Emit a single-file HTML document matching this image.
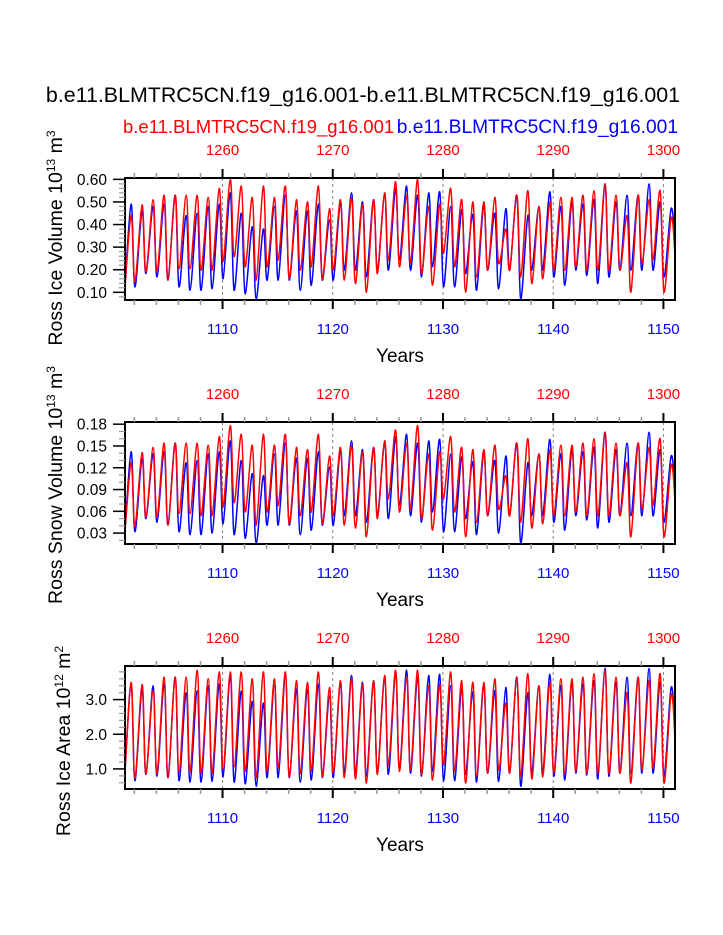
<!DOCTYPE html>
<html><head><meta charset="utf-8"><style>
html,body{margin:0;padding:0;background:#fff;}
svg{display:block;font-family:"Liberation Sans",Arial,sans-serif;}
</style></head><body>
<svg id="chart" width="723" height="935" viewBox="0 0 723 935">
<text x="363" y="102" text-anchor="middle" font-size="21.4" fill="#000">b.e11.BLMTRC5CN.f19_g16.001-b.e11.BLMTRC5CN.f19_g16.001</text>
<text x="123" y="133" font-size="18.5" fill="#ff0000">b.e11.BLMTRC5CN.f19_g16.001</text>
<text x="678" y="133" text-anchor="end" font-size="19.2" fill="#0000ff">b.e11.BLMTRC5CN.f19_g16.001</text>
</svg>
<script>
// Panel 1: Ross Ice Volume (10^13 m^3)
const years = [1101,1102,1103,1104,1105,1106,1107,1108,1109,1110,1111,1112,1113,1114,1115,1116,1117,1118,1119,1120,1121,1122,1123,1124,1125,1126,1127,1128,1129,1130,1131,1132,1133,1134,1135,1136,1137,1138,1139,1140,1141,1142,1143,1144,1145,1146,1147,1148,1149,1150];
const bottomTickLabels = ["1110","1120","1130","1140","1150"];
const topTickLabels = ["1260","1270","1280","1290","1300"];
const iceVolBluePeaks = [.49,.46,.48,.49,.53,.44,.45,.48,.49,.54,.45,.39,.38,.48,.53,.46,.46,.49,.42,.50,.54,.50,.51,.53,.56,.57,.53,.54,.545,.48,.466,.444,.49,.45,.47,.53,.44,.48,.545,.48,.50,.49,.51,.58,.50,.53,.53,.58,.50,.47];
const iceVolBlueTroughs = [.07,.124,.183,.168,.154,.124,.109,.109,.116,.16,.109,.094,.07,.154,.154,.154,.109,.131,.154,.154,.198,.198,.168,.198,.198,.243,.198,.168,.213,.124,.124,.183,.109,.198,.116,.198,.07,.198,.198,.168,.131,.198,.175,.139,.168,.198,.198,.198,.198,.168];
const iceVolRedPeaks = [.44,.487,.51,.53,.53,.53,.53,.52,.56,.60,.57,.52,.57,.52,.57,.51,.50,.57,.47,.51,.52,.49,.51,.54,.59,.53,.60,.48,.49,.56,.51,.50,.50,.52,.38,.53,.55,.48,.50,.52,.52,.53,.55,.58,.53,.44,.53,.51,.55,.43];
const iceVolRedTroughs = [.07,.146,.19,.19,.154,.205,.205,.198,.198,.236,.258,.213,.154,.213,.243,.16,.198,.213,.16,.198,.154,.139,.10,.183,.243,.213,.228,.183,.131,.272,.213,.101,.168,.198,.228,.198,.168,.139,.16,.198,.198,.213,.198,.198,.198,.198,.101,.228,.243,.101];
const iceVolTicks = ["0.10","0.20","0.30","0.40","0.50","0.60"];
// Panel 2: Ross Snow Volume (10^13 m^3)
const snowBluePeaks = [.142,.133,.139,.142,.154,.127,.130,.139,.142,.157,.130,.112,.109,.139,.154,.133,.133,.142,.121,.145,.157,.145,.148,.154,.163,.166,.154,.157,.159,.139,.135,.128,.142,.130,.136,.154,.127,.139,.159,.139,.145,.142,.148,.169,.145,.154,.154,.169,.145,.136];
const snowBlueTroughs = [.016,.032,.050,.045,.041,.032,.028,.028,.030,.043,.028,.023,.016,.041,.041,.041,.028,.034,.041,.041,.054,.054,.045,.054,.050,.068,.054,.045,.059,.032,.032,.050,.028,.054,.030,.054,.016,.054,.054,.045,.034,.054,.048,.037,.045,.054,.054,.054,.054,.045];
const snowRedPeaks = [.127,.141,.148,.154,.154,.154,.154,.151,.163,.178,.166,.151,.166,.151,.166,.148,.145,.166,.136,.148,.151,.142,.148,.157,.172,.154,.178,.139,.142,.163,.148,.145,.145,.151,.109,.154,.160,.139,.145,.151,.151,.154,.160,.169,.154,.127,.154,.148,.160,.124];
const snowRedTroughs = [.016,.039,.052,.052,.041,.057,.057,.054,.054,.066,.072,.059,.041,.059,.068,.043,.054,.059,.043,.054,.041,.037,.025,.050,.077,.059,.063,.050,.034,.077,.059,.025,.045,.054,.063,.054,.045,.037,.043,.054,.054,.059,.054,.054,.054,.054,.025,.063,.068,.025];
const snowTicks = ["0.03","0.06","0.09","0.12","0.15","0.18"];
// Panel 3: Ross Ice Area (10^12 m^2)
const areaBluePeaks = [3.45,3.30,3.40,3.45,3.65,3.20,3.25,3.40,3.45,3.70,3.25,2.95,2.90,3.40,3.65,3.30,3.30,3.45,3.10,3.50,3.70,3.50,3.55,3.65,3.80,3.85,3.65,3.70,3.73,3.40,3.33,3.22,3.45,3.25,3.35,3.65,3.20,3.40,3.73,3.40,3.50,3.45,3.55,3.90,3.50,3.65,3.65,3.90,3.50,3.35];
const areaBlueTroughs = [.50,.66,.84,.79,.75,.66,.62,.62,.64,.77,.62,.57,.50,.75,.75,.75,.62,.68,.75,.75,.88,.88,.79,.88,.84,1.02,.88,.79,.93,.66,.66,.84,.62,.88,.64,.88,.50,.88,.88,.79,.68,.88,.82,.71,.79,.88,.88,.88,.88,.79];
const areaRedPeaks = [3.50,3.44,3.25,3.65,3.65,3.65,3.85,3.60,3.80,3.80,3.80,3.60,3.80,3.60,3.80,3.55,3.50,3.80,3.35,3.55,3.60,3.45,3.55,3.70,3.85,3.65,3.85,3.40,3.45,3.80,3.55,3.50,3.50,3.60,2.90,3.65,3.75,3.40,3.50,3.60,3.60,3.65,3.75,3.85,3.65,3.20,3.65,3.55,3.75,3.15];
const areaRedTroughs = [.50,.73,.86,.86,.75,.91,.91,.88,.88,1.00,1.06,.93,.75,.93,1.02,.77,.88,.93,.77,.88,.75,.71,.59,.84,1.11,.93,.97,.84,.68,1.11,.93,.59,.79,.88,.97,.88,.79,.71,.77,.88,.88,.93,.88,.88,.88,.88,.59,.97,1.02,.59];
const areaTicks = ["1.0","2.0","3.0"];

const NS = "http://www.w3.org/2000/svg";
const svg = document.getElementById("chart");
function mk(tag, attrs, parent){
  const e = document.createElementNS(NS, tag);
  for (const k in attrs) e.setAttribute(k, attrs[k]);
  (parent||svg).appendChild(e);
  return e;
}
const X0 = 125, X1 = 675, XMIN = 1101.15, XMAX = 1151.05;
function xs(v){ return X0 + (v - XMIN) / (XMAX - XMIN) * (X1 - X0); }

function panel(cfg, idx){
  const {top, bottom, ymin, ymax, minorStep, ticks, title, sup, unit, unitSup, series, key, titleY} = cfg;
  const ys = v => bottom - (v - ymin) / (ymax - ymin) * (bottom - top);
  const g = mk("g", {});
  
  
  const clipId = "clip" + idx;
  const cp = mk("clipPath", {id: clipId}, g);
  mk("rect", {x: X0, y: top, width: X1 - X0, height: bottom - top}, cp);
  bottomTickLabels.forEach((lab) => {
    const x = xs(+lab);
    const l = mk("line", {x1: x, x2: x, y1: top, y2: bottom, stroke: "#888", "stroke-width": 1, "stroke-dasharray": "3,3"}, g);
    
    
  });
  series.forEach(s => {
    const pts = [];
    years.forEach((yr, i) => {
      pts.push([xs(yr + 0.05), ys(s.troughs[i])]);
      pts.push([xs(yr + 0.7), ys(s.peaks[i])]);
    });
    const n = years.length - 1;
    pts.push([xs(XMAX), ys((s.peaks[n] + s.troughs[n]) / 2)]);
    pts.unshift([xs(XMIN) - 4, ys(s.troughs[0])]);
    let d = "M" + pts[0][0].toFixed(1) + "," + pts[0][1].toFixed(1);
    for (let i = 0; i < pts.length - 1; i++){
      const p0 = pts[Math.max(0, i-1)], p1 = pts[i], p2 = pts[i+1], p3 = pts[Math.min(pts.length-1, i+2)];
      const c1x = p1[0] + (p2[0]-p0[0])/6, c1y = p1[1] + (p2[1]-p0[1])/6;
      const c2x = p2[0] - (p3[0]-p1[0])/6, c2y = p2[1] - (p3[1]-p1[1])/6;
      d += " C" + c1x.toFixed(1)+","+c1y.toFixed(1)+" "+c2x.toFixed(1)+","+c2y.toFixed(1)+" "+p2[0].toFixed(1)+","+p2[1].toFixed(1);
    }
    const p = mk("path", {d: d, fill: "none", stroke: s.color, "stroke-width": 1.5, "clip-path": "url(#" + clipId + ")"}, g);
    
    
  });
  const fr = mk("rect", {x: X0, y: top, width: X1 - X0, height: bottom - top, fill: "none", stroke: "#000", "stroke-width": 2}, g);
  
  
  for (let yv = 1102; yv <= 1150; yv += 2){
    const x = xs(yv);
    const major = yv % 10 === 0;
    const len = major ? 9 : 5;
    mk("line", {x1: x, x2: x, y1: bottom, y2: bottom + len, stroke: major ? "#000" : "#999", "stroke-width": major ? 2 : 1.5}, g);
    mk("line", {x1: x, x2: x, y1: top, y2: top - len, stroke: major ? "#000" : "#999", "stroke-width": major ? 2 : 1.5}, g);
  }
  bottomTickLabels.forEach((lab) => {
    const t = mk("text", {x: xs(+lab), y: bottom + 34, "text-anchor": "middle", "font-size": 15, fill: "#0000ff"}, g);
    t.textContent = lab;
    
    
  });
  topTickLabels.forEach((lab, i) => {
    const t = mk("text", {x: xs(+bottomTickLabels[i]), y: top - 23, "text-anchor": "middle", "font-size": 15, fill: "#ff0000"}, g);
    t.textContent = lab;
    
    
  });
  const start = Math.ceil(ymin / minorStep - 1e-6);
  for (let k = start; k * minorStep <= ymax + 1e-9; k++){
    const v = k * minorStep;
    const y = ys(v);
    const isMajor = ticks.some(t => Math.abs(+t - v) < 1e-6);
    mk("line", {x1: X0 - (isMajor ? 12 : 6), x2: X0, y1: y, y2: y, stroke: isMajor ? "#000" : "#999", "stroke-width": isMajor ? 1.5 : 1.2}, g);
  }
  ticks.forEach(lab => {
    const t = mk("text", {x: X0 - 18, y: ys(+lab) + 5.5, "text-anchor": "end", "font-size": 15.5, fill: "#000"}, g);
    t.textContent = lab;
    
    
  });
  const xt = mk("text", {x: 400, y: bottom + 62, "text-anchor": "middle", "font-size": 19, fill: "#000"}, g);
  xt.textContent = "Years";
  
  
  const yt = mk("text", {x: 0, y: 0, "text-anchor": "middle", "font-size": 19.5, fill: "#000", transform: "translate(" + cfg.titleX + "," + titleY + ") rotate(-90)"}, g);
  
  
  const t1 = mk("tspan", {}, yt); t1.textContent = title + " 10";
  const t2 = mk("tspan", {"baseline-shift": "super", "font-size": 12}, yt); t2.textContent = sup;
  const t3 = mk("tspan", {}, yt); t3.textContent = " " + unit;
  const t4 = mk("tspan", {"baseline-shift": "super", "font-size": 12}, yt); t4.textContent = unitSup;
}

panel({key: "ice-volume", top: 178, bottom: 300, ymin: 0.066, ymax: 0.606, minorStep: 0.02, ticks: iceVolTicks,
  title: "Ross Ice Volume", sup: "13", unit: "m", unitSup: "3", titleX: 62, titleY: 238,
  series: [{name: "blue", color: "#0000ff", peaks: iceVolBluePeaks, troughs: iceVolBlueTroughs},
           {name: "red", color: "#ff0000", peaks: iceVolRedPeaks, troughs: iceVolRedTroughs}]}, 1);
panel({key: "snow-volume", top: 422, bottom: 544, ymin: 0.015, ymax: 0.183, minorStep: 0.01, ticks: snowTicks,
  title: "Ross Snow Volume", sup: "13", unit: "m", unitSup: "3", titleX: 62, titleY: 485,
  series: [{name: "blue", color: "#0000ff", peaks: snowBluePeaks, troughs: snowBlueTroughs},
           {name: "red", color: "#ff0000", peaks: snowRedPeaks, troughs: snowRedTroughs}]}, 2);
panel({key: "ice-area", top: 666, bottom: 789, ymin: 0.42, ymax: 3.97, minorStep: 0.2, ticks: areaTicks,
  title: "Ross Ice Area", sup: "12", unit: "m", unitSup: "2", titleX: 70, titleY: 741,
  series: [{name: "blue", color: "#0000ff", peaks: areaBluePeaks, troughs: areaBlueTroughs},
           {name: "red", color: "#ff0000", peaks: areaRedPeaks, troughs: areaRedTroughs}]}, 3);
</script>
</body></html>
